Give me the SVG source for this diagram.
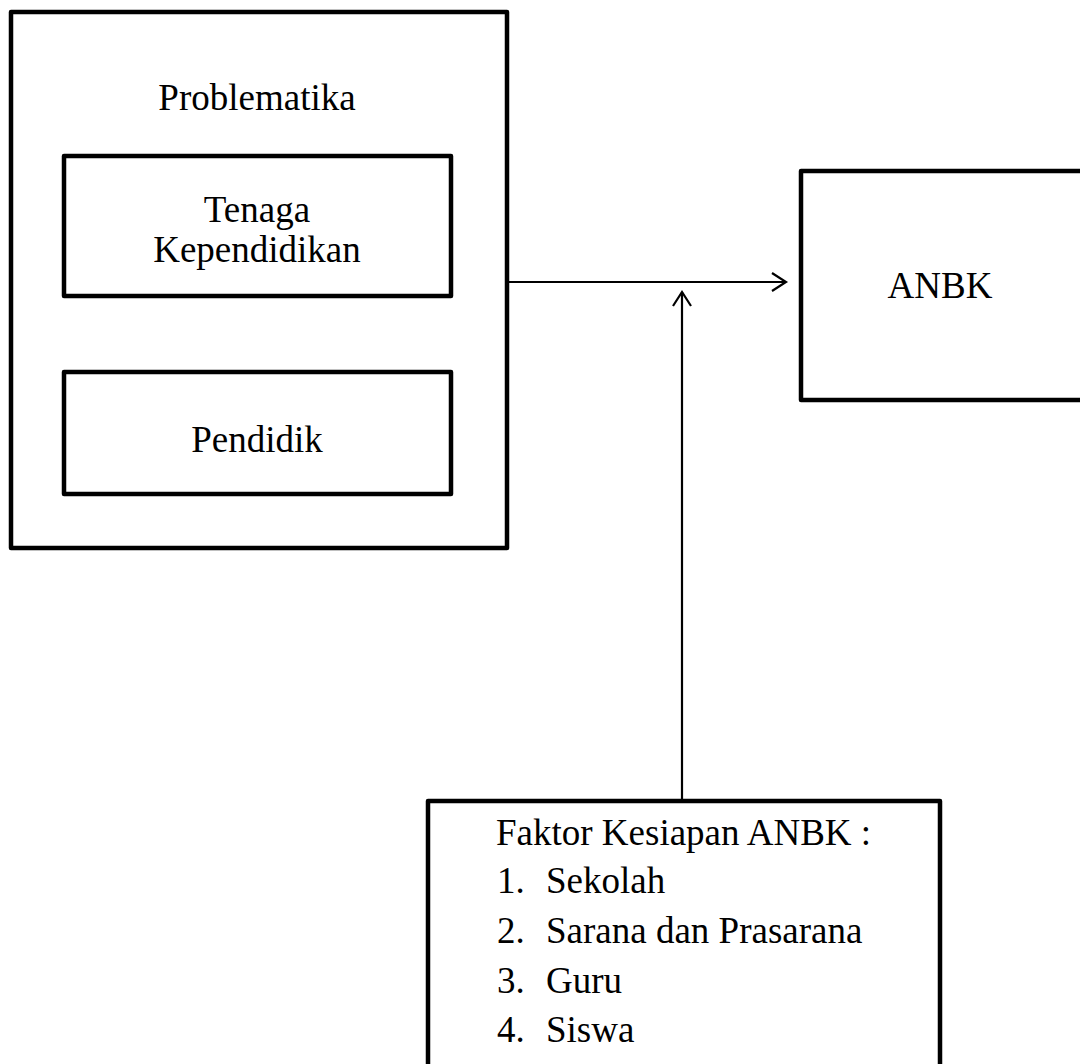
<svg xmlns="http://www.w3.org/2000/svg" width="1080" height="1064" viewBox="0 0 1080 1064">
<style>
.box{fill:#fff;stroke:#000;stroke-width:4.5;stroke-linejoin:round}
.t{font-family:"Liberation Serif","Times New Roman",serif;font-size:37px;fill:#000}
.c{text-anchor:middle}
.ln{stroke:#000;stroke-width:2.2;fill:none}
</style>
<defs>
<marker id="ah" viewBox="0 0 20 20" refX="16" refY="10" markerWidth="20" markerHeight="20" markerUnits="userSpaceOnUse" orient="auto">
<path d="M2 1 L16 10 L2 19" fill="none" stroke="#000" stroke-width="2.2"/>
</marker>
</defs>
<rect width="1080" height="1064" fill="#fff"/>
<g id="problematika">
<rect class="box" x="11" y="12" width="496" height="536"/>
<text class="t c" x="257" y="110">Problematika</text>
</g>
<g id="tenaga">
<rect class="box" x="64" y="156" width="387" height="140"/>
<text class="t c" x="257" y="222">Tenaga</text>
<text class="t c" x="257" y="262">Kependidikan</text>
</g>
<g id="pendidik">
<rect class="box" x="64" y="372" width="387" height="122"/>
<text class="t c" x="257" y="452">Pendidik</text>
</g>
<g id="anbk">
<rect class="box" x="801" y="171" width="290" height="229"/>
<text class="t c" x="940" y="298">ANBK</text>
</g>
<g id="faktor">
<rect class="box" x="428" y="801" width="512" height="290"/>
<text class="t" x="496" y="845">Faktor Kesiapan ANBK :</text>
<text class="t" x="497" y="893">1.</text><text class="t" x="546" y="893">Sekolah</text>
<text class="t" x="497" y="943">2.</text><text class="t" x="546" y="943">Sarana dan Prasarana</text>
<text class="t" x="497" y="993">3.</text><text class="t" x="546" y="993">Guru</text>
<text class="t" x="497" y="1042">4.</text><text class="t" x="546" y="1042">Siswa</text>
</g>
<g id="connectors">
<line class="ln" x1="509" y1="282" x2="786" y2="282" marker-end="url(#ah)"/>
<line class="ln" x1="682" y1="800" x2="682" y2="292" marker-end="url(#ah)"/>
</g>
</svg>
